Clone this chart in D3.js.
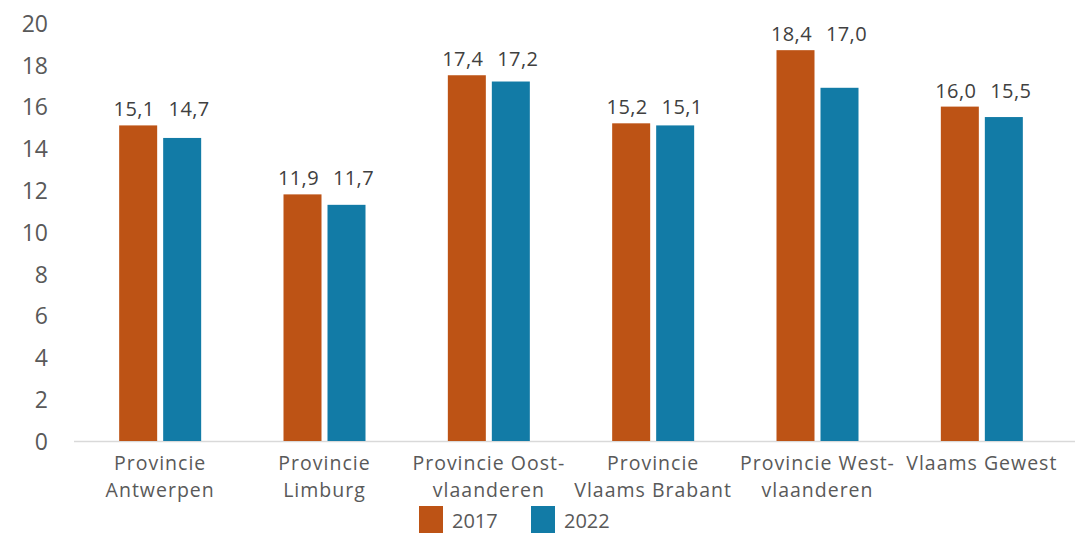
<!DOCTYPE html>
<html lang="nl">
<head>
  <meta charset="UTF-8" />
  <title>Provincies 2017 - 2022</title>
  <script src="https://d3js.org/d3.v7.min.js"></script>
  <style>
    body { margin: 0; background: #fff; }
    svg { display: block; font-family: "Open Sans", "Noto Sans", sans-serif; }
  </style>
</head>
<body>
<svg id="chart" width="1075" height="533"></svg>
<script>
// == DATA ==
const categories = [
  ["Provincie", "Antwerpen"],
  ["Provincie", "Limburg"],
  ["Provincie Oost-", "vlaanderen"],
  ["Provincie", "Vlaams Brabant"],
  ["Provincie West-", "vlaanderen"],
  ["Vlaams Gewest"]
];
const seriesNames = ["2017", "2022"];
// bar heights as drawn in the picture
const bars2017 = [15.1, 11.8, 17.5, 15.2, 18.7, 16.0];
const bars2022 = [14.5, 11.3, 17.2, 15.1, 16.9, 15.5];
// printed data labels
const labels2017 = [15.1, 11.9, 17.4, 15.2, 18.4, 16.0];
const labels2022 = [14.7, 11.7, 17.2, 15.1, 17.0, 15.5];
const yTicks = [0, 2, 4, 6, 8, 10, 12, 14, 16, 18, 20];

const colors = ["#BD5315", "#127BA6"];
const font = "'Open Sans', 'Noto Sans', sans-serif";

const svg = d3.select("#chart");
const width = 1075, height = 533;

const x = d3.scaleBand()
  .domain(d3.range(categories.length))
  .range([78, 1064]);

const y = d3.scaleLinear()
  .domain([0, 20])
  .range([441, 23]);

const barW = 38, gap = 6;

// y axis labels
const yAxis = svg.append("g")
  .attr("transform", "translate(48,0)")
  .call(d3.axisLeft(y).tickValues(yTicks).tickSize(0).tickPadding(0));
yAxis.select(".domain").remove();
yAxis.selectAll("text")
  .attr("font-family", font)
  .attr("font-size", 23)
  .attr("dy", "0.36em")
  .attr("fill", "#595959");

// baseline
svg.append("line")
  .attr("x1", 74).attr("x2", width)
  .attr("y1", y(0) + 0.5).attr("y2", y(0) + 0.5)
  .attr("stroke", "#d9d9d9").attr("stroke-width", 1.5);

const series = [bars2017, bars2022];
const labels = [labels2017, labels2022];
const fmt = v => d3.format(".1f")(v).replace(".", ",");
const cx = i => x(i) + x.bandwidth() / 2;

series.forEach((vals, s) => {
  svg.append("g").selectAll("rect")
    .data(vals)
    .join("rect")
    .attr("x", (d, i) => cx(i) + (s === 0 ? -gap / 2 - barW : gap / 2))
    .attr("y", d => y(d))
    .attr("width", barW)
    .attr("height", d => y(0) - y(d))
    .attr("fill", colors[s]);
});

// data labels, aligned per group above the taller bar, nudged apart
series.forEach((vals, s) => {
  svg.append("g").selectAll("text")
    .data(labels[s])
    .join("text")
    .attr("x", (d, i) => cx(i) + (s === 0 ? -gap / 2 - barW / 2 - 4 : gap / 2 + barW / 2 + 7))
    .attr("y", (d, i) => y(Math.max(bars2017[i], bars2022[i])) - 9)
    .attr("text-anchor", "middle")
    .attr("font-size", 20)
    .attr("letter-spacing", 0.4)
    .attr("fill", "#404040")
    .text(d => fmt(d));
});

// category labels, one text per line
const catG = svg.append("g");
categories.forEach((lines, i) => {
  lines.forEach((ln, k) => {
    catG.append("text")
      .attr("x", cx(i))
      .attr("y", 470 + k * 26.5)
      .attr("text-anchor", "middle")
      .attr("font-size", 19.5)
      .attr("letter-spacing", 1)
      .attr("fill", "#595959")
      .text(ln);
  });
});

// legend
const legend = svg.append("g").attr("transform", "translate(419,506)");
seriesNames.forEach((name, s) => {
  const lg = legend.append("g").attr("transform", `translate(${s * 112},0)`);
  lg.append("rect").attr("width", 24).attr("height", 27).attr("fill", colors[s]);
  lg.append("text")
    .attr("x", 33).attr("y", 22)
    .attr("font-size", 20)
    .attr("fill", "#595959")
    .text(name);
});
</script>
</body>
</html>
